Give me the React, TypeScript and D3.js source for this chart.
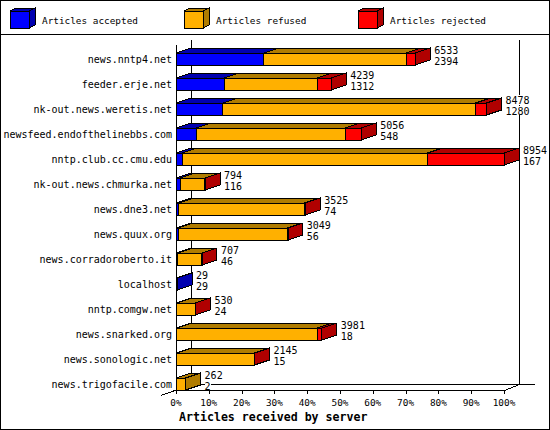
import React from 'react';
import * as d3 from 'd3';

const servers = [
  'news.nntp4.net',
  'feeder.erje.net',
  'nk-out.news.weretis.net',
  'newsfeed.endofthelinebbs.com',
  'nntp.club.cc.cmu.edu',
  'nk-out.news.chmurka.net',
  'news.dne3.net',
  'news.quux.org',
  'news.corradoroberto.it',
  'localhost',
  'nntp.comgw.net',
  'news.snarked.org',
  'news.sonologic.net',
  'news.trigofacile.com',
];
const totals = [6533, 4239, 8478, 5056, 8954, 794, 3525, 3049, 707, 29, 530, 3981, 2145, 262];
const accepted = [2394, 1312, 1280, 548, 167, 116, 74, 56, 46, 29, 24, 18, 15, 2];
const rejected = [250, 380, 300, 440, 2090, 5, 20, 5, 3, 0, 4, 130, 5, 0];
const percentTicks = [0, 10, 20, 30, 40, 50, 60, 70, 80, 90, 100];
const legendLabels = ['Articles accepted', 'Articles refused', 'Articles rejected'];

const front = ['#0000ff', '#ffb000', '#ff0000'];
const dark = ['#0000b0', '#b07c00', '#b00000'];

const mono = '"DejaVu Sans Mono", monospace';
const DX = 15;
const DY = 5;

export default function App() {
  const x = d3.scaleLinear().domain([0, d3.max(totals) as number]).range([176, 504]);
  const xp = d3.scaleLinear().domain([0, 100]).range([176, 504]);
  const y = d3.scaleBand().domain(servers).range([40, 390]);
  const step = y.step();

  const pts = (p: number[][]) => p.map((q) => q.join(',')).join(' ');

  return (
    <svg
      width={550}
      height={430}
      style={{ position: 'absolute', left: 0, top: 0, background: '#fff' }}
      shapeRendering="crispEdges"
    >
      <rect x={0.5} y={0.5} width={549} height={429} fill="#fff" stroke="#000" />
      <line x1={0} x2={550} y1={34.5} y2={34.5} stroke="#000" />

      {legendLabels.map((l, i) => {
        const lx = 10 + i * 174;
        return (
          <g key={l}>
            <polygon points={pts([[lx, 11], [lx + 19, 11], [lx + 25, 8], [lx + 6, 8]])} fill={dark[i]} stroke="#000" />
            <polygon points={pts([[lx + 19, 11], [lx + 25, 8], [lx + 25, 25], [lx + 19, 28]])} fill={dark[i]} stroke="#000" />
            <rect x={lx} y={11} width={19} height={17} fill={front[i]} stroke="#000" />
            <text x={lx + 32} y={23.5} fontFamily={mono} fontSize={9.4}>{l}</text>
          </g>
        );
      })}

      {/* frame */}
      <g stroke="#000" fill="none">
        <line x1={191.5} x2={191.5} y1={40} y2={384.5} />
        <line x1={176.5} x2={176.5} y1={45} y2={390.5} />
        <line x1={519.5} x2={519.5} y1={40} y2={384.5} />
        <line x1={191} x2={535} y1={384.5} y2={384.5} />
        <line x1={176} x2={504} y1={390.5} y2={390.5} />
        <line x1={161} y1={395.5} x2={191.5} y2={384.5} />
        <line x1={504.5} y1={390.5} x2={519.5} y2={384.5} />
        {percentTicks.map((t) => (
          <line key={t} x1={Math.round(xp(t)) + 0.5} x2={Math.round(xp(t)) + 0.5} y1={390} y2={394} />
        ))}
      </g>
      {percentTicks.map((t) => (
        <text key={t} x={xp(t)} y={406} textAnchor="middle" fontFamily={mono} fontSize={9.4}>{t}%</text>
      ))}
      <text x={179} y={421} fontFamily={mono} fontSize={11.6} fontWeight="bold">Articles received by server</text>

      {servers.map((s, i) => {
        const vals = [accepted[i], totals[i] - accepted[i] - rejected[i], rejected[i]];
        const top = (y(s) as number) + step - 12;
        const bot = (y(s) as number) + step;
        const segs: { a: number; b: number; k: number }[] = [];
        let acc = 0;
        vals.forEach((v, k) => {
          if (v > 0) segs.push({ a: x(acc), b: x(acc + v), k });
          acc += v;
        });
        const end = x(totals[i]);
        const last = segs[segs.length - 1].k;
        return (
          <g key={s}>
            <text x={172} y={top + 9.5} textAnchor="end" fontFamily={mono} fontSize={10}>{s}</text>
            {segs.map((g) => (
              <polygon
                key={'t' + g.k}
                points={pts([[g.a, top], [g.b, top], [g.b + DX, top - DY], [g.a + DX, top - DY]])}
                fill={dark[g.k]}
                stroke="#000"
              />
            ))}
            <polygon
              points={pts([[end, top], [end + DX, top - DY], [end + DX, bot - DY], [end, bot]])}
              fill={dark[last]}
              stroke="#000"
            />
            {segs.map((g) => (
              <rect
                key={'f' + g.k}
                x={g.a}
                y={top}
                width={Math.max(g.b - g.a, 0.5)}
                height={bot - top}
                fill={front[g.k]}
                stroke="#000"
              />
            ))}
            <rect x={end + 19} y={top - 8} width={String(totals[i]).length * 6} height={10} fill="#fff" />
            <rect x={end + 19} y={top + 3} width={String(accepted[i]).length * 6} height={9} fill="#fff" />
            <text x={end + 19} y={top + 0.5} fontFamily={mono} fontSize={10}>{totals[i]}</text>
            <text x={end + 19} y={top + 11.5} fontFamily={mono} fontSize={10}>{accepted[i]}</text>
          </g>
        );
      })}
    </svg>
  );
}
